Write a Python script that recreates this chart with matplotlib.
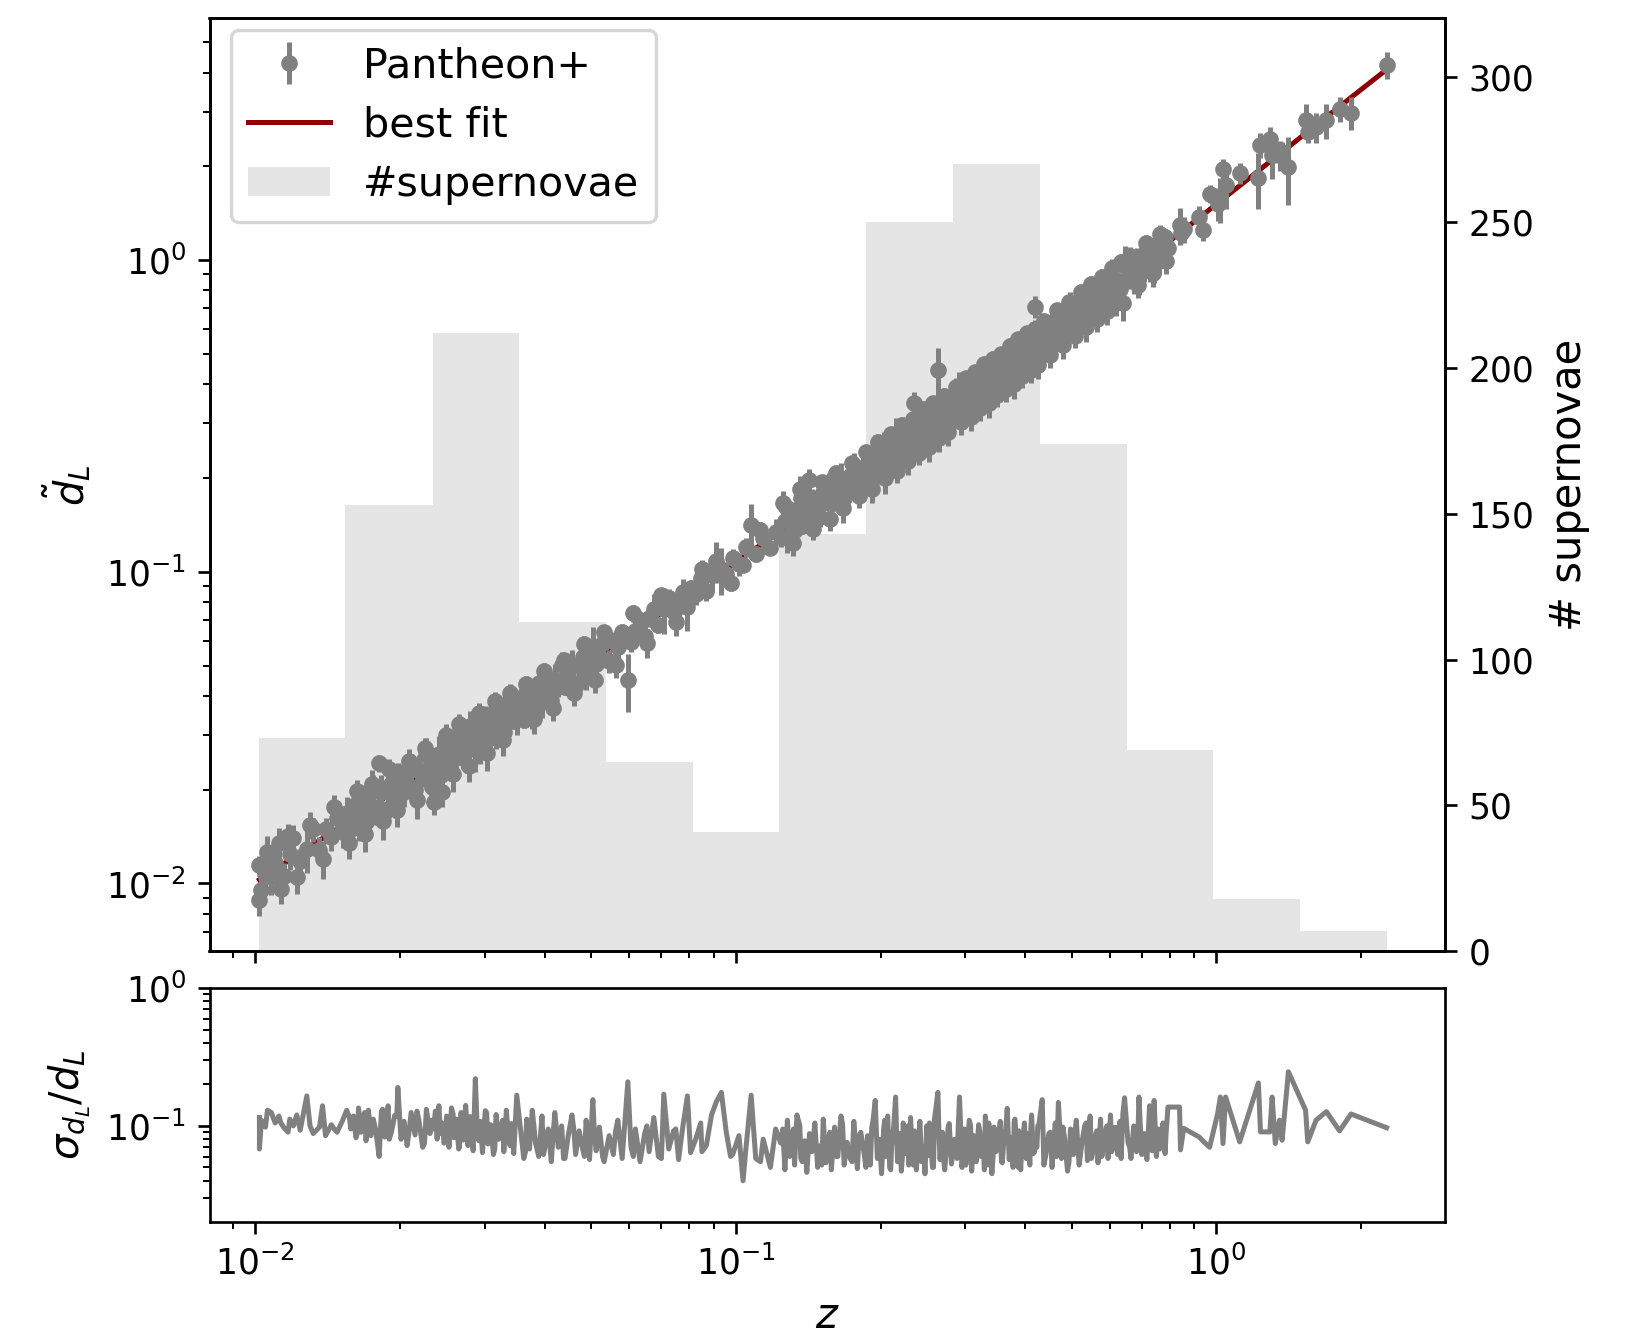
import numpy as np
import matplotlib
matplotlib.use("Agg")
import matplotlib.pyplot as plt

# --- data -----------------------------------------------------------------
# redshift of each supernova (core of the band first, then its upper/lower edges)
z_sn = [
    0.0102, 0.0102, 0.0103, 0.0105, 0.0108, 0.0110, 0.0112, 0.0115, 0.0118, 0.0120,
    0.0124, 0.0128, 0.0132, 0.0136, 0.0140, 0.0144, 0.0148, 0.0152,
    0.0155, 0.0158, 0.0160, 0.0162, 0.0164, 0.0166, 0.0168, 0.0170, 0.0172, 0.0174,
    0.0176, 0.0178, 0.0181, 0.0183, 0.0186, 0.0189, 0.0192, 0.0195, 0.0198, 0.0201,
    0.0204, 0.0207, 0.0211, 0.0215, 0.0219, 0.0223, 0.0227, 0.0231,
    0.0235, 0.0237, 0.0239, 0.0241, 0.0243, 0.0245, 0.0247, 0.0250, 0.0253, 0.0256,
    0.0259, 0.0262, 0.0265, 0.0268, 0.0271, 0.0274, 0.0277, 0.0280, 0.0284, 0.0287,
    0.0290, 0.0294, 0.0297, 0.0301, 0.0305, 0.0309, 0.0313, 0.0317, 0.0321, 0.0325,
    0.0329, 0.0333, 0.0337, 0.0341, 0.0345, 0.0350,
    0.0357, 0.0362, 0.0367, 0.0372, 0.0377, 0.0383, 0.0389, 0.0395, 0.0401, 0.0407,
    0.0413, 0.0420, 0.0427, 0.0434, 0.0441, 0.0448, 0.0456, 0.0464, 0.0472, 0.0480,
    0.0488, 0.0496, 0.0504, 0.0512, 0.0520, 0.0528,
    0.0545, 0.0556, 0.0568, 0.0580, 0.0596, 0.0605, 0.0618, 0.0632, 0.0646, 0.0660,
    0.0675, 0.0690, 0.0708, 0.0725, 0.0742, 0.0760, 0.0776, 0.0793, 0.0805,
    0.0825, 0.0845, 0.0868, 0.0890, 0.0911, 0.0933, 0.0955, 0.0985, 0.1015, 0.1035,
    0.1050, 0.1076, 0.1100, 0.1140, 0.1180, 0.1210,
    0.1240, 0.1252, 0.1265, 0.1280, 0.1295, 0.1310, 0.1325, 0.1340, 0.1359, 0.1375,
    0.1390, 0.1405, 0.1423, 0.1440, 0.1460, 0.1480, 0.1500, 0.1520, 0.1540, 0.1560,
    0.1580, 0.1605, 0.1630, 0.1655, 0.1680, 0.1705, 0.1730, 0.1760, 0.1790, 0.1820,
    0.1850,
    0.1880, 0.1905, 0.1930, 0.1950, 0.1970, 0.1990, 0.2010, 0.2030, 0.2050, 0.2070,
    0.2090, 0.2110, 0.2130, 0.2150, 0.2170, 0.2190, 0.2210, 0.2230, 0.2250, 0.2270,
    0.2290, 0.2310, 0.2330, 0.2353, 0.2375, 0.2395, 0.2415, 0.2435, 0.2455, 0.2475,
    0.2495, 0.2515, 0.2540, 0.2565, 0.2590, 0.2633, 0.2660, 0.2690, 0.2720, 0.2750,
    0.2780, 0.2810,
    0.2850, 0.2885, 0.2920, 0.2955, 0.2990, 0.3025, 0.3060, 0.3095, 0.3130, 0.3165,
    0.3200, 0.3235, 0.3270, 0.3305, 0.3340, 0.3375, 0.3410, 0.3445, 0.3480, 0.3515,
    0.3550, 0.3585, 0.3620, 0.3670, 0.3705, 0.3740, 0.3775, 0.3810, 0.3845, 0.3880,
    0.3915, 0.3950, 0.3985, 0.4020, 0.4055, 0.4090, 0.4125, 0.4160, 0.4200, 0.4230,
    0.4265,
    0.434, 0.441, 0.448, 0.455, 0.462, 0.469, 0.476, 0.483, 0.490, 0.497,
    0.504, 0.511, 0.518, 0.525, 0.532, 0.539, 0.546, 0.553, 0.560, 0.567,
    0.574, 0.581, 0.588, 0.595, 0.602, 0.609, 0.616, 0.623, 0.630, 0.639, 0.644,
    0.655, 0.664, 0.673, 0.682, 0.690, 0.699, 0.708, 0.717, 0.726, 0.735,
    0.742, 0.750, 0.758, 0.766, 0.774, 0.782, 0.793, 0.838, 0.842, 0.855,
    0.921, 0.937, 0.968,
    1.006, 1.019, 1.032, 1.045, 1.118, 1.223, 1.235, 1.292, 1.306, 1.326,
    1.353, 1.370, 1.412, 1.533, 1.549, 1.612, 1.694, 1.804, 1.906, 2.260,
    # band edges
    0.0106, 0.0113, 0.0117, 0.0122, 0.0130, 0.0138, 0.0146, 0.0157, 0.0163, 0.0169,
    0.0175, 0.0184, 0.0190, 0.0197, 0.0209, 0.0217, 0.0225, 0.0233, 0.0249, 0.0258,
    0.0266, 0.0279, 0.0292, 0.0303, 0.0315, 0.0327, 0.0339,
    0.0365, 0.0380, 0.0398, 0.0417, 0.0438, 0.0460, 0.0484, 0.0508, 0.0532, 0.0562,
    0.0612, 0.0653, 0.0700, 0.0750, 0.0850, 0.0975, 0.1125,
    0.1272, 0.1318, 0.1365, 0.1450, 0.1510, 0.1570, 0.1618, 0.1668, 0.1745, 0.1805,
    0.1865, 0.1918, 0.1980, 0.2040, 0.2100, 0.2160, 0.2220, 0.2280, 0.2340, 0.2405,
    0.2465, 0.2528, 0.2578, 0.2645, 0.2705, 0.2765,
    0.2870, 0.2940, 0.3010, 0.3080, 0.3150, 0.3220, 0.3290, 0.3360, 0.3430, 0.3500,
    0.3570, 0.3645, 0.3720, 0.3795, 0.3870, 0.3945, 0.4040, 0.4110, 0.4185, 0.4250,
    0.4375, 0.4510, 0.4650, 0.4795, 0.4935, 0.5075, 0.5215, 0.5355, 0.5495, 0.5635,
    0.5775, 0.5915, 0.6055, 0.6195, 0.6335,
    0.6600, 0.6870, 0.7130, 0.7380, 0.7620, 0.7860,
]

# normalised luminosity distance d_L H0 / c
dl_sn = [
    0.00886, 0.0115, 0.00953, 0.0107, 0.0105, 0.0116, 0.0135, 0.0106, 0.0124, 0.0140,
    0.0118, 0.0129, 0.0149, 0.0128, 0.0150, 0.0141, 0.0162, 0.0146,
    0.0168, 0.0149, 0.0165, 0.0180, 0.0158, 0.0166, 0.0184, 0.0157, 0.0181, 0.0171,
    0.0200, 0.0170, 0.0243, 0.0197, 0.0170, 0.0197, 0.0208, 0.0184, 0.0205, 0.0224,
    0.0197, 0.0208, 0.0231, 0.0199, 0.0232, 0.0220, 0.0259, 0.0221,
    0.0183, 0.0241, 0.0192, 0.0260, 0.0223, 0.0196, 0.0259, 0.0273, 0.0240, 0.0266,
    0.0290, 0.0254, 0.0268, 0.0295, 0.0252, 0.0291, 0.0274, 0.0320, 0.0273, 0.0293,
    0.0314, 0.0270, 0.0313, 0.0329, 0.0290, 0.0323, 0.0352, 0.0308, 0.0325, 0.0360,
    0.0307, 0.0355, 0.0335, 0.0392, 0.0333, 0.0359,
    0.0389, 0.0335, 0.0388, 0.0409, 0.0361, 0.0402, 0.0440, 0.0386, 0.0409, 0.0453,
    0.0387, 0.0451, 0.0427, 0.0502, 0.0428, 0.0463, 0.0500, 0.0432, 0.0503, 0.0532,
    0.0470, 0.0525, 0.0575, 0.0505, 0.0535, 0.0593,
    0.0516, 0.0602, 0.0574, 0.0642, 0.0450, 0.0595, 0.0647, 0.0702, 0.0623, 0.0713,
    0.0759, 0.0675, 0.0761, 0.0826, 0.0744, 0.0795, 0.0862, 0.0773, 0.0888,
    0.0850, 0.0953, 0.0869, 0.0978, 0.1080, 0.1018, 0.0982, 0.1111, 0.1060, 0.1049,
    0.1201, 0.1414, 0.1143, 0.1287, 0.1195, 0.1346,
    0.1296, 0.1660, 0.1452, 0.1288, 0.1459, 0.1547, 0.1363, 0.1482, 0.1850, 0.1403,
    0.1619, 0.1498, 0.1970, 0.1730, 0.1530, 0.1667, 0.1504, 0.1801, 0.1673, 0.1922,
    0.1650, 0.1840, 0.1744, 0.1995, 0.1728, 0.1985, 0.1881, 0.2174, 0.1872, 0.2092,
    0.2005,
    0.2253, 0.2006, 0.2254, 0.2391, 0.2037, 0.2357, 0.2220, 0.2570, 0.2200, 0.2412,
    0.2152, 0.2585, 0.2343, 0.2689, 0.2318, 0.2543, 0.2849, 0.2442, 0.2700, 0.2386,
    0.2833, 0.2621, 0.2970, 0.3470, 0.2566, 0.2869, 0.2699, 0.3064, 0.2577, 0.3035,
    0.2770, 0.3296, 0.2738, 0.3129, 0.2951, 0.4440, 0.3324, 0.2954, 0.3505, 0.3126,
    0.3362, 0.3037,
    0.3561, 0.3232, 0.3765, 0.3428, 0.3940, 0.3340, 0.3788, 0.3577, 0.4039, 0.3442,
    0.4027, 0.3843, 0.4407, 0.3738, 0.4109, 0.4364, 0.3958, 0.4595, 0.3924, 0.4401,
    0.4234, 0.4635, 0.4062, 0.4717, 0.4403, 0.5007, 0.4405, 0.4736, 0.5314, 0.4499,
    0.5084, 0.4791, 0.5340, 0.4538, 0.5246, 0.4888, 0.5664, 0.5037, 0.7090, 0.5457,
    0.4970,
    0.5844, 0.5224, 0.5836, 0.6354, 0.5645, 0.6116, 0.5613, 0.6595, 0.6202, 0.7206,
    0.6207, 0.6914, 0.6551, 0.7489, 0.6480, 0.7442, 0.7118, 0.7890, 0.6963, 0.7752,
    0.7327, 0.8609, 0.7701, 0.8374, 0.7431, 0.8777, 0.8059, 0.8594, 0.8107, 0.7270, 0.9559,
    0.8762, 0.9645, 0.8684, 1.025, 0.9241, 0.9974, 0.9336, 1.079, 0.9933, 1.071,
    0.9988, 1.118, 0.9927, 1.137, 1.085, 1.188, 1.094, 1.297, 1.220, 1.260,
    1.380, 1.247, 1.635,
    1.520, 1.575, 1.966, 1.740, 1.905, 1.835, 2.340, 2.450, 2.170, 2.220,
    2.170, 2.220, 1.990, 2.810, 2.580, 2.675, 2.810, 3.060, 2.970, 4.240,
    # band edges
    0.0126, 0.00958, 0.0142, 0.0105, 0.0154, 0.0120, 0.0176, 0.0135, 0.0198, 0.0144,
    0.0209, 0.0159, 0.0233, 0.0172, 0.0248, 0.0185, 0.0272, 0.0204, 0.0299, 0.0224,
    0.0326, 0.0239, 0.0352, 0.0263, 0.0384, 0.0288, 0.0407,
    0.0435, 0.0336, 0.0480, 0.0366, 0.0520, 0.0409, 0.0587, 0.0448, 0.0642, 0.0504,
    0.0736, 0.0589, 0.0840, 0.0689, 0.1022, 0.0921, 0.1366,
    0.1615, 0.1240, 0.1722, 0.1375, 0.1935, 0.1482, 0.2072, 0.1601, 0.2232, 0.1748,
    0.2421, 0.1848, 0.2613, 0.2003, 0.2763, 0.2108, 0.2966, 0.2266, 0.3093, 0.2406,
    0.3336, 0.2516, 0.3479, 0.2679, 0.3675, 0.2817,
    0.3931, 0.3021, 0.4188, 0.3150, 0.4373, 0.3354, 0.4638, 0.3482, 0.4824, 0.3693,
    0.5008, 0.3870, 0.5298, 0.4008, 0.5595, 0.4242, 0.5832, 0.4450, 0.6024, 0.4627,
    0.6400, 0.4962, 0.6897, 0.5359, 0.7347, 0.5726, 0.7911, 0.6106, 0.8416, 0.6488,
    0.8858, 0.6876, 0.9456, 0.7269, 0.9896,
    1.030, 0.8331, 1.132, 0.9092, 1.216, 0.9926,
]

# relative uncertainty sigma_dL / dL
rel_err = [
    0.115, 0.068, 0.110, 0.098, 0.125, 0.105, 0.118, 0.096, 0.112, 0.100,
    0.093, 0.165, 0.088, 0.098, 0.085, 0.102, 0.090, 0.110,
    0.130, 0.095, 0.118, 0.082, 0.135, 0.090, 0.121, 0.078, 0.130, 0.085,
    0.112, 0.094, 0.060, 0.128, 0.083, 0.140, 0.090, 0.119, 0.190, 0.080,
    0.108, 0.072, 0.125, 0.086, 0.110, 0.070, 0.132, 0.088,
    0.095, 0.128, 0.080, 0.140, 0.088, 0.105, 0.075, 0.118, 0.070, 0.135,
    0.082, 0.112, 0.068, 0.125, 0.079, 0.141, 0.072, 0.117, 0.066, 0.220,
    0.085, 0.108, 0.064, 0.129, 0.074, 0.102, 0.062, 0.121, 0.080, 0.098,
    0.065, 0.130, 0.076, 0.104, 0.063, 0.167,
    0.090, 0.058, 0.112, 0.068, 0.130, 0.075, 0.060, 0.118, 0.072, 0.095,
    0.055, 0.125, 0.070, 0.100, 0.058, 0.085, 0.120, 0.062, 0.092, 0.068,
    0.110, 0.057, 0.155, 0.066, 0.098, 0.060,
    0.085, 0.062, 0.110, 0.058, 0.209, 0.070, 0.095, 0.055, 0.088, 0.065,
    0.115, 0.060, 0.170, 0.068, 0.092, 0.057, 0.100, 0.165, 0.064,
    0.080, 0.105, 0.072, 0.120, 0.150, 0.175, 0.090, 0.062, 0.085, 0.040,
    0.070, 0.167, 0.058, 0.080, 0.050, 0.095,
    0.075, 0.095, 0.048, 0.110, 0.060, 0.085, 0.052, 0.120, 0.100, 0.055,
    0.078, 0.046, 0.088, 0.065, 0.105, 0.050, 0.072, 0.112, 0.054, 0.082,
    0.048, 0.098, 0.060, 0.118, 0.052, 0.076, 0.058, 0.108, 0.049, 0.090,
    0.062,
    0.085, 0.052, 0.110, 0.153, 0.058, 0.080, 0.045, 0.095, 0.060, 0.118,
    0.050, 0.072, 0.098, 0.162, 0.055, 0.088, 0.047, 0.105, 0.063, 0.082,
    0.052, 0.115, 0.058, 0.092, 0.048, 0.078, 0.108, 0.055, 0.070, 0.045,
    0.100, 0.061, 0.085, 0.050, 0.112, 0.175, 0.057, 0.090, 0.048, 0.076,
    0.104, 0.053,
    0.080, 0.058, 0.162, 0.050, 0.095, 0.062, 0.110, 0.047, 0.085, 0.055,
    0.102, 0.060, 0.072, 0.118, 0.052, 0.088, 0.045, 0.098, 0.065, 0.078,
    0.108, 0.054, 0.090, 0.134, 0.057, 0.082, 0.050, 0.112, 0.062, 0.092,
    0.048, 0.075, 0.105, 0.058, 0.088, 0.052, 0.120, 0.063, 0.080, 0.070,
    0.098,
    0.155, 0.060, 0.088, 0.050, 0.105, 0.148, 0.058, 0.082, 0.047, 0.095,
    0.062, 0.110, 0.052, 0.076, 0.100, 0.056, 0.118, 0.064, 0.086, 0.054,
    0.112, 0.068, 0.092, 0.058, 0.120, 0.070, 0.098, 0.062, 0.108, 0.125, 0.160,
    0.075, 0.058, 0.100, 0.065, 0.162, 0.062, 0.088, 0.057, 0.140, 0.066,
    0.153, 0.060, 0.095, 0.070, 0.105, 0.063, 0.137, 0.137, 0.067, 0.096,
    0.083, 0.078, 0.070,
    0.123, 0.162, 0.0745, 0.162, 0.0766, 0.205, 0.0905, 0.0905, 0.162, 0.0745,
    0.110, 0.0787, 0.247, 0.130, 0.0766, 0.110, 0.127, 0.092, 0.122, 0.097,
    # band edges
    0.130, 0.105, 0.090, 0.120, 0.100, 0.140, 0.095, 0.115, 0.088, 0.125,
    0.105, 0.132, 0.080, 0.118, 0.092, 0.128, 0.075, 0.110, 0.085, 0.122,
    0.070, 0.115, 0.078, 0.125, 0.068, 0.110, 0.072,
    0.065, 0.100, 0.062, 0.090, 0.058, 0.095, 0.060, 0.085, 0.055, 0.092,
    0.060, 0.100, 0.058, 0.095, 0.065, 0.060, 0.055,
    0.070, 0.095, 0.058, 0.080, 0.052, 0.090, 0.060, 0.102, 0.055, 0.085,
    0.050, 0.098, 0.062, 0.110, 0.048, 0.088, 0.058, 0.100, 0.052, 0.085,
    0.060, 0.105, 0.050, 0.092, 0.058, 0.098,
    0.065, 0.088, 0.052, 0.100, 0.058, 0.090, 0.048, 0.105, 0.060, 0.082,
    0.055, 0.095, 0.062, 0.108, 0.050, 0.085, 0.058, 0.095, 0.065, 0.100,
    0.052, 0.090, 0.060, 0.098, 0.055, 0.088, 0.062, 0.105, 0.058, 0.092,
    0.060, 0.100, 0.065, 0.090, 0.058,
    0.070, 0.095, 0.062, 0.100, 0.068, 0.090,
]

# best fit curve, sampled
z_fit = [0.0102, 0.02, 0.05, 0.1, 0.2, 0.3, 0.5, 0.7, 1.0, 1.5, 2.0, 2.26]
dl_fit = [0.01028, 0.0203, 0.0519, 0.1073, 0.2277, 0.3599, 0.654, 0.980, 1.513, 2.485, 3.528, 4.09]

# histogram of supernovae per log-z bin
bin_edges = [0.0102, 0.0154, 0.0234, 0.0354, 0.0536, 0.0813, 0.123, 0.187,
             0.283, 0.429, 0.650, 0.985, 1.49, 2.26]
sn_counts = [73, 153, 212, 113, 65, 41, 143, 250, 270, 174, 69, 18, 7]


def make_plot():
    order = np.argsort(z_sn, kind='stable')
    z = np.array(z_sn)[order]
    dl = np.array(dl_sn)[order]
    rel = np.array(rel_err)[order]
    edges = np.array(bin_edges)

    plt.rcParams['xtick.labelsize'] = 10.4
    plt.rcParams['ytick.labelsize'] = 10.4

    W, H = 1630, 1335
    fig = plt.figure(figsize=(W / 240, H / 240), dpi=240)
    ax = fig.add_axes([209.5 / W, 1 - 951 / H, 1235.5 / W, 932.6 / H])
    ax_b = fig.add_axes([209.5 / W, 1 - 1222 / H, 1235.5 / W, 234 / H], sharex=ax)

    # histogram on twin axis, behind the data
    ax2 = ax.twinx()
    ax2.bar(edges[:-1], sn_counts, width=np.diff(edges), align='edge',
            color='grey', alpha=0.2, label='#supernovae')
    ax2.set_ylim(0, 320)
    ax2.set_ylabel('# supernovae', fontsize=12.5)
    ax.set_zorder(ax2.get_zorder() + 1)
    ax.patch.set_visible(False)

    ax.plot(z_fit, dl_fit, color='darkred', lw=1.5, label='best fit')
    ax.errorbar(z, dl, yerr=rel * dl, fmt='o', color='grey', ms=4,
                elinewidth=1.5, label='Pantheon+')
    ax.set_xscale('log')
    ax.set_yscale('log')
    ax.set_xlim(0.00803, 2.99)
    ax.set_ylim(0.00607, 5.97)
    ax.set_ylabel(r'$\tilde{d}_L$', fontsize=12)
    ax.tick_params(axis='x', labelbottom=False)

    h1, l1 = ax.get_legend_handles_labels()
    h2, l2 = ax2.get_legend_handles_labels()
    handles = [h1[1], h1[0], h2[0]]
    labels = [l1[1], l1[0], l2[0]]
    ax.legend(handles, labels, loc='upper left', fontsize=12.4,
              bbox_to_anchor=(0.0174, 0.9876), borderaxespad=0,
              labelspacing=0.47)

    ax_b.plot(z, rel, color='grey', lw=1.5)
    ax_b.set_yscale('log')
    ax_b.set_ylim(0.0201, 1.0)
    ax_b.set_xlabel(r'$z$', fontsize=12.5)
    ax_b.set_ylabel(r'$\sigma_{d_L}/d_L$', fontsize=12)

    fig.savefig('out.png', dpi=240)
    plt.close(fig)


if __name__ == "__main__":
    make_plot()
